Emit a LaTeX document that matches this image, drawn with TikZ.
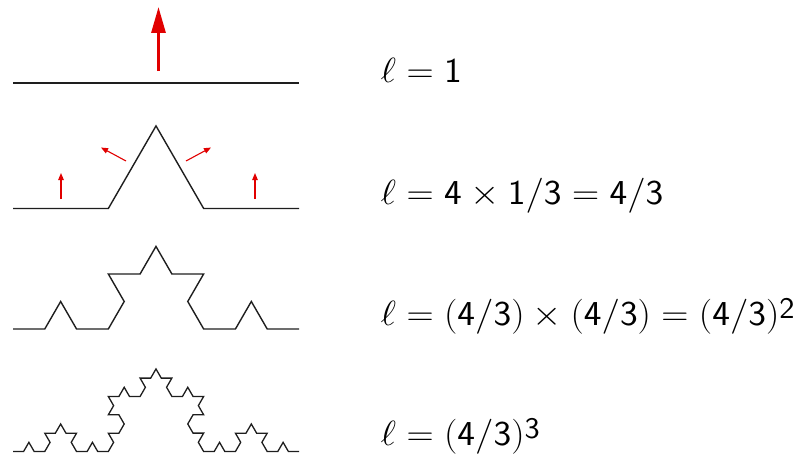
\RequirePackage{fix-cm}
\documentclass[tikz,border=0pt]{standalone}
\usetikzlibrary{arrows.meta,decorations.fractals}
\definecolor{arrowred}{RGB}{225,0,0}
\definecolor{curveblack}{RGB}{30,30,30}
\newcommand{\wide}[1]{\scalebox{1.075}[1]{#1}}
\newcommand{\lowsup}[1]{\raisebox{7pt}{\fontsize{30}{34}\selectfont\sffamily #1}}
\tikzset{
  curve/.style={draw=curveblack,line width=1.4pt,line join=miter},
  bigarrow/.style={draw=arrowred,line width=3pt,-{Triangle[length=26pt,width=14pt]}},
  smallarrow/.style={draw=arrowred,line width=1.1pt,-{Triangle[length=7pt,width=5.5pt]}},
  koch/.style={decoration={Koch snowflake}},
  lab/.style={anchor=base west,inner sep=0pt,font=\fontsize{35}{42}\selectfont},
}
\begin{document}
\begin{tikzpicture}[x=1pt,y=-1pt]
\useasboundingbox (0,0) rectangle (799,460);
% level 0
\draw[curve,line width=1.7pt] (13,83) -- (299,83);
\draw[bigarrow] (158.5,71) -- (158.5,7);
% level 1
\draw[curve] (13,208.5) -- (108.33,208.5) -- (156,125.9) -- (203.67,208.5) -- (299,208.5);
\draw[smallarrow] (61,199) -- (61,173);
\draw[smallarrow] (255,199) -- (255,173);
\draw[smallarrow] (126,161) -- (101,147.5);
\draw[smallarrow] (186,161) -- (211,147.5);
% level 2
\draw[curve,koch] decorate{decorate{(13,329) -- (299,329)}};
% level 3
\draw[curve,line width=1.3pt,koch] decorate{decorate{decorate{(13,451.5) -- (299,451.5)}}};
% labels
\node[lab] (l0) at (380.5,82) {\wide{$\ell=\mathsf{1}$}};
\node[lab] (l1) at (380.5,204) {\wide{$\ell=\mathsf{4}\times\mathsf{1/3}=\mathsf{4/3}$}};
\node[lab] (l2) at (380.5,325) {\wide{$\ell=\mathsf{(4/3)}\times\mathsf{(4/3)}=\mathsf{(4/3)}$\lowsup{2}}};
\node[lab] (l3) at (380.5,445) {\wide{$\ell=\mathsf{(4/3)}$\lowsup{3}}};
\end{tikzpicture}
\end{document}
